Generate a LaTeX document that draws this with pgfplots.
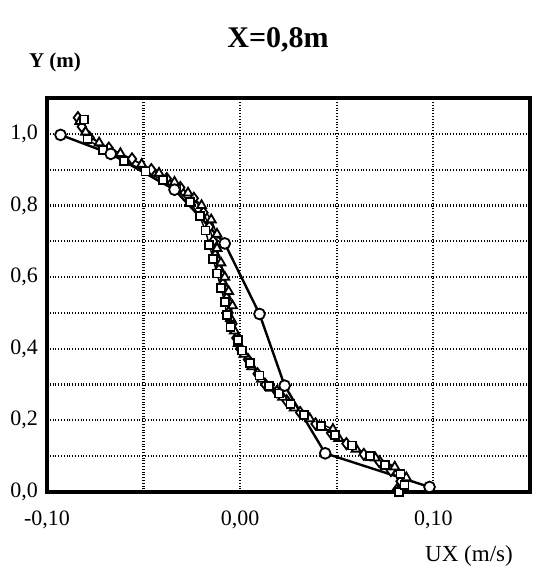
\documentclass[border=0pt]{standalone}
\usepackage{pgfplots}
\pgfplotsset{compat=1.18}
\usepackage{fontspec}
\setmainfont{Liberation Serif}

% Velocity profile at X = 0,8 m
\pgfplotstableread{
ux      y
-0.093  0.997
-0.067  0.944
-0.034  0.844
-0.008  0.694
 0.010  0.497
 0.023  0.297
 0.044  0.108
 0.098  0.014
}\circdata

\pgfplotstableread{
ux      y
 0.081  0.005
 0.083  0.030
 0.078  0.060
 0.072  0.085
 0.064  0.105
 0.055  0.135
 0.047  0.165
 0.039  0.190
 0.031  0.222
 0.024  0.255
 0.019  0.280
 0.013  0.300
 0.009  0.330
 0.004  0.370
 0.000  0.400
-0.002  0.430
-0.004  0.470
-0.006  0.500
-0.007  0.540
-0.009  0.580
-0.011  0.620
-0.013  0.660
-0.014  0.700
-0.016  0.740
-0.019  0.780
-0.024  0.820
-0.031  0.850
-0.038  0.875
-0.046  0.900
-0.056  0.930
-0.068  0.960
-0.078  0.990
-0.082  1.020
-0.084  1.045
}\diadata

\pgfplotstableread{
ux      y
 0.084  0.010
 0.086  0.040
 0.080  0.070
 0.070  0.095
 0.060  0.120
 0.051  0.150
 0.048  0.175
 0.036  0.205
 0.028  0.235
 0.022  0.265
 0.016  0.290
 0.011  0.315
 0.006  0.350
 0.002  0.385
-0.001  0.415
-0.003  0.450
-0.005  0.485
-0.004  0.520
-0.006  0.560
-0.008  0.600
-0.010  0.640
-0.012  0.680
-0.012  0.720
-0.015  0.760
-0.020  0.800
-0.027  0.835
-0.034  0.865
-0.042  0.890
-0.051  0.915
-0.062  0.945
-0.073  0.975
-0.080  1.005
-0.083  1.035
}\tridata

\pgfplotstableread{
ux      y
 0.082  0.000
 0.085  0.020
 0.083  0.050
 0.075  0.075
 0.067  0.100
 0.058  0.130
 0.049  0.160
 0.042  0.185
 0.033  0.215
 0.026  0.245
 0.020  0.275
 0.015  0.295
 0.010  0.325
 0.005  0.360
 0.001  0.395
-0.001  0.425
-0.005  0.460
-0.007  0.495
-0.008  0.530
-0.010  0.570
-0.012  0.610
-0.014  0.650
-0.016  0.690
-0.018  0.730
-0.021  0.770
-0.026  0.810
-0.033  0.845
-0.040  0.870
-0.049  0.895
-0.060  0.925
-0.071  0.955
-0.079  0.985
-0.081  1.040
}\sqdata

\begin{document}
\begin{tikzpicture}
\path[use as bounding box] (-23.5pt,-41.5pt) rectangle (243pt,246pt);
\begin{axis}[
  at={(0,0)}, anchor=south west,
  scale only axis,
  width=241.5pt, height=197pt,
  xmin=-0.10, xmax=0.15,
  ymin=0, ymax=1.1,
  xtick={-0.1,0,0.1},
  minor xtick={-0.05,0.05},
  ytick={0,0.2,0.4,0.6,0.8,1.0},
  minor ytick={0.1,0.3,0.5,0.7,0.9},
  grid=both,
  major grid style={black, densely dotted, line width=1.1pt},
  minor grid style={black, densely dotted, line width=1.1pt},
  major tick length=0pt, minor tick length=0pt,
  axis line style={black, line width=1.6pt},
  /pgf/number format/assume math mode=true,
  xticklabel style={font=\fontsize{11}{12}\selectfont, /pgf/number format/.cd, fixed, fixed zerofill, precision=2, use comma},
  yticklabel style={font=\fontsize{11}{12}\selectfont, /pgf/number format/.cd, fixed, fixed zerofill, precision=1, use comma},
  xticklabel shift=6pt,
  yticklabel shift=1pt,
  clip=false,
]
\addplot[black, line width=0.7pt, mark=diamond*, mark size=2.8pt,
  mark options={fill=white, line width=0.9pt}] table[x=ux, y=y] {\diadata};
\addplot[black, line width=0.7pt, mark=triangle*, mark size=2.6pt,
  mark options={fill=white, line width=0.9pt}] table[x=ux, y=y] {\tridata};
\addplot[black, line width=0.7pt, mark=square*, mark size=2pt,
  mark options={fill=white, line width=0.9pt}] table[x=ux, y=y] {\sqdata};
\addplot[black, line width=1.2pt, mark=*, mark size=2.7pt,
  mark options={fill=white, line width=0.9pt}] table[x=ux, y=y] {\circdata};
\end{axis}
\node[font=\bfseries\fontsize{15}{18}\selectfont] at (115.5pt,226pt) {X=0,8m};
\node[font=\bfseries\fontsize{10.5}{12}\selectfont] at (4pt,215pt) {Y (m)};
\node[font=\fontsize{11.5}{13}\selectfont] at (211pt,-32pt) {UX (m/s)};
\end{tikzpicture}
\end{document}
